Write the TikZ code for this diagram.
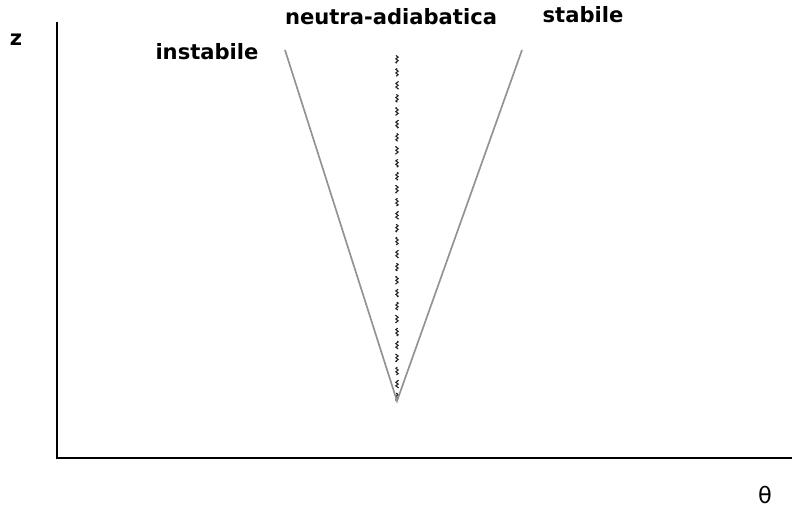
\documentclass[tikz,border=0pt]{standalone}
\usepackage{fontspec}
\setmainfont{DejaVu Sans}
\usetikzlibrary{decorations.pathmorphing}
\tikzset{
  lbl/.style        = {font=\fontsize{15}{18}\selectfont\bfseries, inner sep=0pt},  % labels
  axis/.style       = {line width=1pt, black},
  branch/.style     = {line width=1.2pt, gray!85},                  % stable / unstable profile
  adiab/.style      = {decorate, decoration={snake, amplitude=0.8pt, segment length=2.5pt},
                       dash pattern=on 9pt off 6pt, line width=0.8pt, black!85}
}
\begin{document}
\begin{tikzpicture}[x=0.025cm, y=-0.025cm]
  \useasboundingbox (0,0) rectangle (792,511);
  % axes
  \coordinate (O) at (57,458);
  \coordinate (ztop) at (57,22);
  \coordinate (xend) at (792,458);
  \draw[axis] (ztop) -- (O) -- (xend);
  % profiles
  \coordinate (V) at (397,401);
  \coordinate (Lt) at (285,50);
  \coordinate (Rt) at (522,50);
  \coordinate (Nt) at (397,50);
  \draw[adiab] (V) -- (Nt);
  \draw[branch] (Lt) -- (V) -- (Rt);
  % labels
  \node[lbl] (zlab)   at (16,40)   {z};
  \node[lbl, font=\fontsize{16}{18}\selectfont] (thlab)  at (765,495) {θ};
  \node[lbl] (inst)   at (207,52)  {instabile};
  \node[lbl] (neutra) at (391,17)  {neutra-adiabatica};
  \node[lbl] (stab)   at (583,15)  {stabile};
\end{tikzpicture}
\end{document}
